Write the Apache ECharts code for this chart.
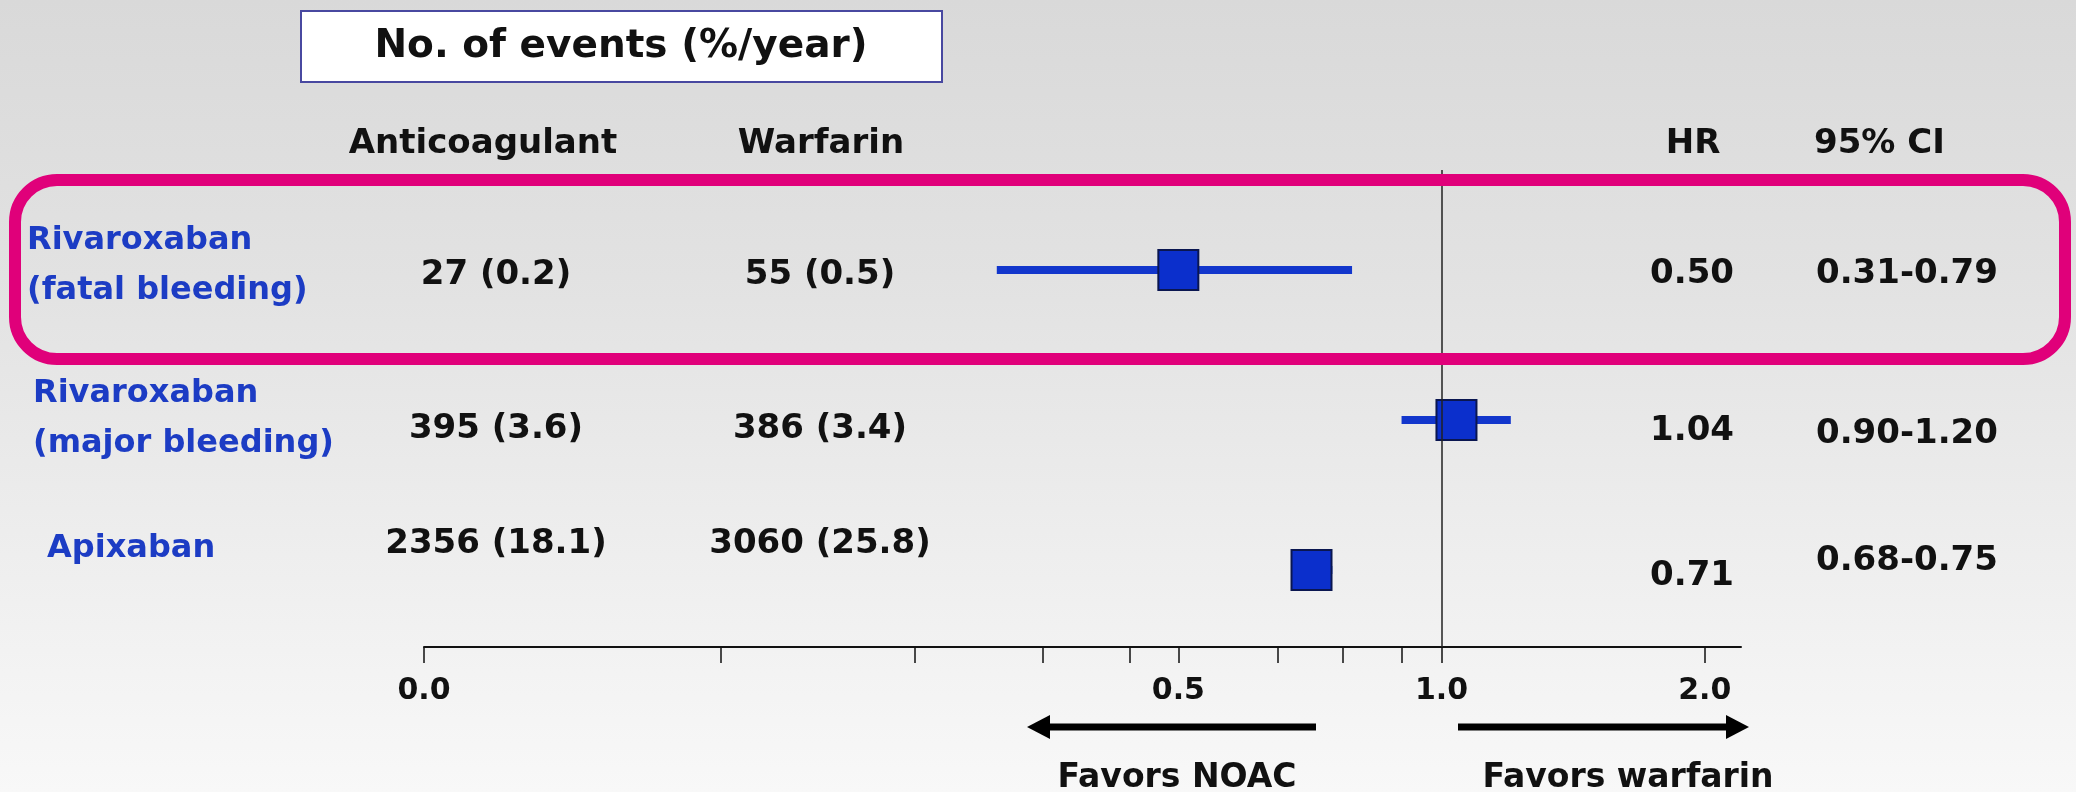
<!DOCTYPE html>
<html>
<head>
<meta charset="utf-8">
<script src="https://cdn.jsdelivr.net/npm/echarts@6/dist/echarts.min.js"></script>
<style>
  html, body { margin: 0; padding: 0; }
  #chart {
    width: 2076px; height: 792px;
    background: linear-gradient(180deg, #d9d9d9 0%, #e2e2e2 35%, #eeeeee 70%, #f8f8f8 100%);
  }
</style>
</head>
<body>
<div id="chart"></div>
<script>
// Bleeding outcomes, NOAC vs warfarin
const studies = ['Rivaroxaban\n(fatal bleeding)', 'Rivaroxaban\n(major bleeding)', 'Apixaban'];
const noacEvents = ['27 (0.2)', '395 (3.6)', '2356 (18.1)'];
const warfarinEvents = ['55 (0.5)', '386 (3.4)', '3060 (25.8)'];
const hazardRatio = [0.50, 1.04, 0.71];
const ciLower = [0.31, 0.90, 0.68];
const ciUpper = [0.79, 1.20, 0.75];

// HR axis (log scale); the origin tick is printed as "0.0"
const AXIS_MIN = 0.0686;
const AXIS_MAX = 2.2;
const labelTickValues = [AXIS_MIN, 0.5, 1.0, 2.0];
const labelTickTexts = ['0.0', '0.5', '1.0', '2.0'];
const minorTickValues = [0.15, 0.25, 0.35, 0.44, 0.65, 0.77, 0.9];

const FONT = '"DejaVu Sans", "Open Sans", sans-serif';
const BLUE_TEXT = '#1c3cc4';
const INK = '#111111';

const chart = echarts.init(document.getElementById('chart'), null, { renderer: 'canvas' });

const option = {
  animation: false,
  backgroundColor: 'transparent',
  grid: { left: 424, right: 335, top: 170, bottom: 145, containLabel: false },
  xAxis: {
    type: 'log',
    logBase: 10,
    min: AXIS_MIN,
    max: AXIS_MAX,
    axisLine: { show: true, onZero: false, lineStyle: { color: '#111', width: 2 } },
    axisTick: {
      show: true,
      length: 16,
      customValues: labelTickValues.concat(minorTickValues),
      lineStyle: { color: '#111', width: 1.5 }
    },
    axisLabel: {
      show: true,
      customValues: labelTickValues,
      margin: 29,
      fontFamily: FONT,
      fontWeight: 'bold',
      fontSize: 30,
      color: INK,
      formatter: function (value) {
        let best = 0;
        labelTickValues.forEach(function (t, k) {
          if (Math.abs(Math.log(t) - Math.log(value)) < Math.abs(Math.log(labelTickValues[best]) - Math.log(value))) best = k;
        });
        return labelTickTexts[best];
      }
    },
    splitLine: { show: false },
    minorTick: { show: false },
    minorSplitLine: { show: false }
  },
  yAxis: {
    type: 'value',
    inverse: true,
    min: -0.667,
    max: 2.513,
    show: false,
    splitLine: { show: false }
  },
  series: [
    {
      name: 'ci',
      type: 'custom',
      z: 3,
      renderItem: function (params, api) {
        const a = api.coord([api.value(0), api.value(2)]);
        const b = api.coord([api.value(1), api.value(2)]);
        return {
          type: 'line',
          shape: { x1: a[0], y1: a[1], x2: b[0], y2: b[1] },
          style: { stroke: '#1236cc', lineWidth: 8, lineCap: 'butt' }
        };
      },
      encode: { x: [0, 1], y: 2 },
      data: studies.map(function (_, i) { return [ciLower[i], ciUpper[i], i]; })
    },
    {
      name: 'hr',
      type: 'scatter',
      z: 4,
      symbol: 'rect',
      symbolSize: 40,
      itemStyle: { color: '#0b2fcc', borderColor: '#0a1650', borderWidth: 2, opacity: 1 },
      data: hazardRatio.map(function (v, i) { return [v, i]; }),
      markLine: {
        silent: true,
        symbol: 'none',
        label: { show: false },
        lineStyle: { color: '#222', width: 1.5, type: 'solid' },
        data: [{ xAxis: 1.0 }]
      }
    }
  ]
};

chart.setOption(option);

// Table text placed on the same rows as the plotted estimates
const rowY = function (i) { return chart.convertToPixel({ yAxisIndex: 0 }, i); };

const COL = { label: [27, 33, 47], noac: 496, warfarin: 820, hr: 1692, ci: 1816 };
const NUDGE = {
  label: [-4, -1, -21],
  events: [5, 9, -26],
  hr: [4, 11, 6],
  ci: [4, 14, -9]
};

function txt(x, y, text, opts) {
  opts = opts || {};
  return {
    type: 'text',
    x: x,
    y: y,
    z: 10,
    style: {
      text: text,
      fill: opts.fill || INK,
      font: 'bold ' + (opts.size || 34) + 'px ' + FONT,
      align: opts.align || 'center',
      verticalAlign: 'middle',
      lineHeight: opts.lineHeight || undefined
    }
  };
}

const g = [];

// header box
g.push({
  type: 'rect', z: 5,
  shape: { x: 301, y: 11, width: 641, height: 71 },
  style: { fill: '#ffffff', stroke: '#4848a0', lineWidth: 2 }
});
g.push(txt(621, 47, 'No. of events (%/year)', { size: 39 }));

// column headers
g.push(txt(483, 144, 'Anticoagulant'));
g.push(txt(821, 144, 'Warfarin'));
g.push(txt(1693, 144, 'HR'));
g.push(txt(1814, 144, '95% CI', { align: 'left' }));

// highlighted row frame
g.push({
  type: 'rect', z: 6,
  shape: { x: 15, y: 180, width: 2050, height: 179, r: 42 },
  style: { fill: 'none', stroke: '#e0007a', lineWidth: 12 }
});

studies.forEach(function (name, i) {
  const y = rowY(i);
  g.push(txt(COL.label[i], y + NUDGE.label[i], name, { fill: BLUE_TEXT, size: 32, align: 'left', lineHeight: 50 }));
  g.push(txt(COL.noac, y + NUDGE.events[i], noacEvents[i]));
  g.push(txt(COL.warfarin, y + NUDGE.events[i], warfarinEvents[i]));
  g.push(txt(COL.hr, y + NUDGE.hr[i], hazardRatio[i].toFixed(2)));
  g.push(txt(COL.ci, y + NUDGE.ci[i], ciLower[i].toFixed(2) + '-' + ciUpper[i].toFixed(2), { align: 'left' }));
});

// direction arrows
g.push({ type: 'line', z: 5, shape: { x1: 1316, y1: 727, x2: 1045, y2: 727 }, style: { stroke: '#000', lineWidth: 7 } });
g.push({ type: 'polygon', z: 5, shape: { points: [[1027, 727], [1050, 715], [1050, 739]] }, style: { fill: '#000' } });
g.push({ type: 'line', z: 5, shape: { x1: 1458, y1: 727, x2: 1731, y2: 727 }, style: { stroke: '#000', lineWidth: 7 } });
g.push({ type: 'polygon', z: 5, shape: { points: [[1749, 727], [1726, 715], [1726, 739]] }, style: { fill: '#000' } });

g.push(txt(1177, 778, 'Favors NOAC', { size: 33 }));
g.push(txt(1628, 778, 'Favors warfarin', { size: 33 }));

chart.setOption({ graphic: g });
</script>
</body>
</html>
